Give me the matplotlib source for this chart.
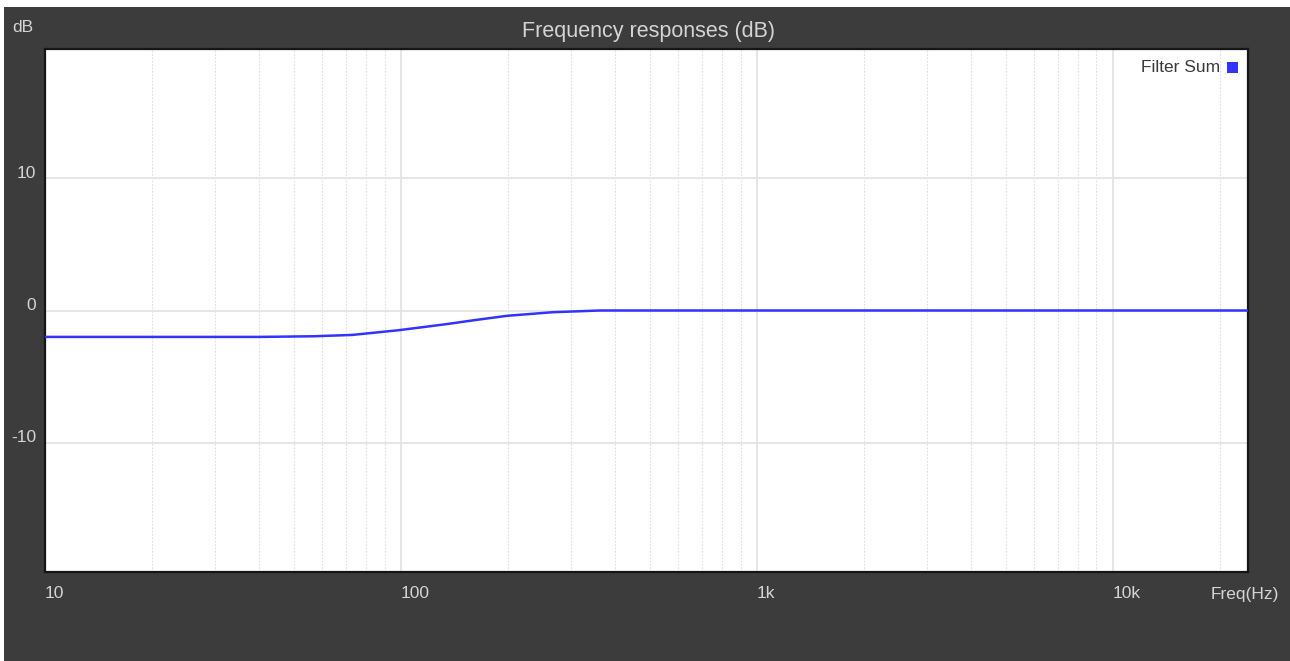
import matplotlib.pyplot as plt
import matplotlib.transforms as mtransforms
from matplotlib.patches import Rectangle
import numpy as np

plt.rcParams['font.family'] = ['Liberation Sans', 'DejaVu Sans']

# データ
freqs = [10, 20, 40, 57, 73, 98, 120, 137, 159, 199, 267, 362, 1000, 24000]
gains = [-2.0, -2.0, -2.0, -1.95, -1.85, -1.5, -1.2, -1.0, -0.75, -0.4, -0.13, 0.0, 0.0, 0.0]
x_ticks = [10, 100, 1000, 10000]
x_labels = ['10', '100', '1k', '10k']
y_ticks = [-10, 0, 10]
y_labels = ['-10', '0', '10']

W, H = 1290, 661
bg = '#3c3c3c'
txt = '#d4d4d4'
fs = 12.5

fig = plt.figure(figsize=(W / 100, H / 100), dpi=100, facecolor='white')
# 上と左に白い余白が少しある
fig.patches.append(Rectangle((4 / W, 0), 1, (H - 7) / H, transform=fig.transFigure,
                             facecolor=bg, edgecolor='none', zorder=-10))

ax = fig.add_axes([45 / W, (H - 572) / H, (1248 - 45) / W, (572 - 49) / H])
ax.set_facecolor('white')
ax.set_xscale('log')
ax.set_xlim(10, 24000)
ax.set_ylim(-19.8, 19.8)

# グリッド
ax.set_xticks(x_ticks)
ax.set_xticks([m * d for d in [10, 100, 1000, 10000] for m in range(2, 10) if m * d < 24000], minor=True)
ax.set_yticks(y_ticks)
ax.grid(True, which='major', color='#e4e4e4', linewidth=1.3)
ax.grid(True, which='minor', axis='x', color='#dedede', linewidth=0.8, linestyle=(0, (1.5, 1.5)))
ax.tick_params(which='both', length=0, labelbottom=False, labelleft=False)
ax.set_axisbelow(True)
for s in ax.spines.values():
    s.set_color('#151515')
    s.set_linewidth(1.6)

ax.plot(freqs, gains, color='#3333ff', linewidth=1.8, zorder=3)

# 目盛りラベル
tx = mtransforms.blended_transform_factory(ax.transData, ax.transAxes)
off_x = mtransforms.ScaledTranslation(0, -21 / 100, fig.dpi_scale_trans)
for v, lab in zip(x_ticks, x_labels):
    ax.text(v, 0, lab, transform=tx + off_x, ha='left', va='center', color=txt, fontsize=fs)

ty = mtransforms.blended_transform_factory(ax.transAxes, ax.transData)
off_y = mtransforms.ScaledTranslation(-9 / 100, 5 / 100, fig.dpi_scale_trans)
for v, lab in zip(y_ticks, y_labels):
    ax.text(0, v, lab, transform=ty + off_y, ha='right', va='center', color=txt, fontsize=fs)

fig.text(648 / W, 1 - 32 / H, 'Frequency responses (dB)', ha='center', va='center', color=txt, fontsize=15.5)
fig.text(12 / W, 1 - 28 / H, 'dB', ha='left', va='center', color=txt, fontsize=fs)
fig.text(1279 / W, 1 - 594 / H, 'Freq(Hz)', ha='right', va='center', color=txt, fontsize=fs)

# 凡例
fig.text(1220 / W, 1 - 67 / H, 'Filter Sum', ha='right', va='center', color='#3a3a3a', fontsize=fs)
fig.patches.append(Rectangle((1227 / W, 1 - 73 / H), 11 / W, 11 / H, transform=fig.transFigure,
                             facecolor='#3333ff', edgecolor='none', zorder=5))

fig.savefig('out.png', dpi=100, facecolor=fig.get_facecolor())
